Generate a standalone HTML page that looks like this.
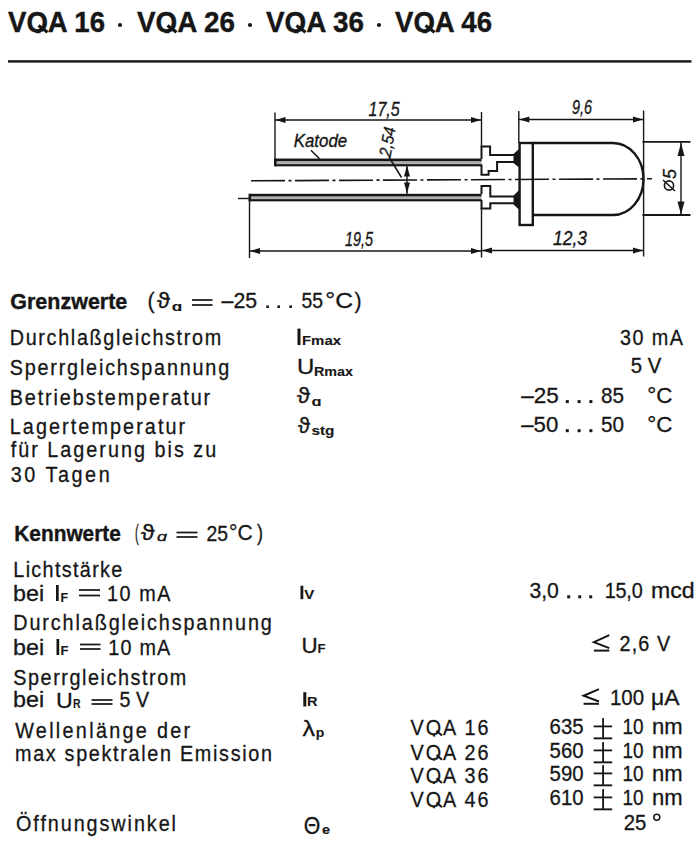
<!DOCTYPE html>
<html><head><meta charset="utf-8">
<style>
html,body{margin:0;padding:0;background:#fff;overflow:hidden;}
svg{display:block;}
text{fill:#161616;stroke:#161616;font-family:"Liberation Sans",sans-serif;}
</style></head><body>
<svg width="700" height="842" viewBox="0 0 700 842">
<defs><clipPath id="cq" clipPathUnits="userSpaceOnUse"><rect x="-100" y="-60" width="1400" height="61.2"/></clipPath></defs>
<rect x="0" y="0" width="700" height="842" fill="#fff"/>
<g transform="translate(8.00,32) scale(1.0,1)"><text x="0" y="0" font-size="29.5" font-weight="bold" font-style="normal" font-family="Liberation Sans" stroke-width="0.4" textLength="97.00" lengthAdjust="spacingAndGlyphs" clip-path="url(#cq)">VQA 16</text></g>
<g transform="translate(137.00,32) scale(1.0,1)"><text x="0" y="0" font-size="29.5" font-weight="bold" font-style="normal" font-family="Liberation Sans" stroke-width="0.4" textLength="98.00" lengthAdjust="spacingAndGlyphs" clip-path="url(#cq)">VQA 26</text></g>
<g transform="translate(266.00,32) scale(1.0,1)"><text x="0" y="0" font-size="29.5" font-weight="bold" font-style="normal" font-family="Liberation Sans" stroke-width="0.4" textLength="98.00" lengthAdjust="spacingAndGlyphs" clip-path="url(#cq)">VQA 36</text></g>
<g transform="translate(395.00,32) scale(1.0,1)"><text x="0" y="0" font-size="29.5" font-weight="bold" font-style="normal" font-family="Liberation Sans" stroke-width="0.4" textLength="97.00" lengthAdjust="spacingAndGlyphs" clip-path="url(#cq)">VQA 46</text></g>
<g transform="translate(10.30,309) scale(1.0,1)"><text x="0" y="0" font-size="21.8" font-weight="bold" font-style="normal" font-family="Liberation Sans" stroke-width="0.4" textLength="117.00" lengthAdjust="spacingAndGlyphs">Grenzwerte</text></g>
<g transform="translate(147.60,308) scale(1.0,1)"><text x="0" y="0" font-size="22" font-weight="normal" font-style="normal" font-family="Liberation Sans" stroke-width="0.3" textLength="7.06" lengthAdjust="spacingAndGlyphs">(</text></g>
<g transform="translate(157.10,308) scale(1.0,1)"><text x="0" y="0" font-size="22" font-weight="normal" font-style="normal" font-family="Liberation Sans" stroke-width="0.3" textLength="13.03" lengthAdjust="spacingAndGlyphs">ϑ</text></g>
<g transform="translate(171.70,311) scale(1.0,1)"><text x="0" y="0" font-size="13" font-weight="bold" font-style="normal" font-family="Liberation Sans" stroke-width="0.1" textLength="10.54" lengthAdjust="spacingAndGlyphs">ɑ</text></g>
<g transform="translate(221.60,308) scale(1.0,1)"><text x="0" y="0" font-size="22" font-weight="normal" font-style="normal" font-family="Liberation Sans" stroke-width="0.3" textLength="35.52" lengthAdjust="spacingAndGlyphs">–25</text></g>
<g transform="translate(301.40,308) scale(1.0,1)"><text x="0" y="0" font-size="22" font-weight="normal" font-style="normal" font-family="Liberation Sans" stroke-width="0.3" textLength="21.52" lengthAdjust="spacingAndGlyphs">55</text></g>
<g transform="translate(325.30,308) scale(1.0,1)"><text x="0" y="0" font-size="22" font-weight="normal" font-style="normal" font-family="Liberation Sans" stroke-width="0.3" textLength="27.64" lengthAdjust="spacingAndGlyphs">°C</text></g>
<g transform="translate(354.60,308) scale(1.0,1)"><text x="0" y="0" font-size="22" font-weight="normal" font-style="normal" font-family="Liberation Sans" stroke-width="0.3" textLength="7.06" lengthAdjust="spacingAndGlyphs">)</text></g>
<g transform="translate(9.70,345.2) scale(0.9,1)"><text x="0" y="0" font-size="22" font-weight="normal" font-style="normal" font-family="Liberation Sans" stroke-width="0.3" textLength="235.00" lengthAdjust="spacing">Durchlaßgleichstrom</text></g>
<g transform="translate(9.70,374.5) scale(0.9,1)"><text x="0" y="0" font-size="22" font-weight="normal" font-style="normal" font-family="Liberation Sans" stroke-width="0.3" textLength="243.89" lengthAdjust="spacing">Sperrgleichspannung</text></g>
<g transform="translate(9.70,404.5) scale(0.9,1)"><text x="0" y="0" font-size="22" font-weight="normal" font-style="normal" font-family="Liberation Sans" stroke-width="0.3" textLength="222.78" lengthAdjust="spacing">Betriebstemperatur</text></g>
<g transform="translate(9.70,434.4) scale(0.9,1)"><text x="0" y="0" font-size="22" font-weight="normal" font-style="normal" font-family="Liberation Sans" stroke-width="0.3" textLength="195.00" lengthAdjust="spacing">Lagertemperatur</text></g>
<g transform="translate(10.70,456.9) scale(0.9,1)"><text x="0" y="0" font-size="22" font-weight="normal" font-style="normal" font-family="Liberation Sans" stroke-width="0.3" textLength="228.33" lengthAdjust="spacing">für Lagerung bis zu</text></g>
<g transform="translate(10.70,481.5) scale(0.9,1)"><text x="0" y="0" font-size="22" font-weight="normal" font-style="normal" font-family="Liberation Sans" stroke-width="0.3" textLength="110.00" lengthAdjust="spacing">30 Tagen</text></g>
<g transform="translate(302.00,345.3) scale(1.0,1)"><text x="0" y="0" font-size="12.4" font-weight="bold" font-style="normal" font-family="Liberation Sans" stroke-width="0.1" textLength="39.00" lengthAdjust="spacingAndGlyphs">Fmax</text></g>
<g transform="translate(297.00,374) scale(1.0,1)"><text x="0" y="0" font-size="22" font-weight="normal" font-style="normal" font-family="Liberation Sans" stroke-width="0.3" textLength="17.31" lengthAdjust="spacingAndGlyphs">U</text></g>
<g transform="translate(314.00,375.6) scale(1.0,1)"><text x="0" y="0" font-size="12.4" font-weight="bold" font-style="normal" font-family="Liberation Sans" stroke-width="0.1" textLength="39.00" lengthAdjust="spacingAndGlyphs">Rmax</text></g>
<g transform="translate(297.00,403.4) scale(1.0,1)"><text x="0" y="0" font-size="22" font-weight="normal" font-style="normal" font-family="Liberation Sans" stroke-width="0.3" textLength="13.03" lengthAdjust="spacingAndGlyphs">ϑ</text></g>
<g transform="translate(311.40,405.6) scale(1.0,1)"><text x="0" y="0" font-size="12.4" font-weight="bold" font-style="normal" font-family="Liberation Sans" stroke-width="0.1" textLength="10.07" lengthAdjust="spacingAndGlyphs">ɑ</text></g>
<g transform="translate(298.00,433.4) scale(1.0,1)"><text x="0" y="0" font-size="22" font-weight="normal" font-style="normal" font-family="Liberation Sans" stroke-width="0.3" textLength="12.03" lengthAdjust="spacingAndGlyphs">ϑ</text></g>
<g transform="translate(311.40,435) scale(1.0,1)"><text x="0" y="0" font-size="12.4" font-weight="bold" font-style="normal" font-family="Liberation Sans" stroke-width="0.1" textLength="23.03" lengthAdjust="spacingAndGlyphs">stg</text></g>
<g transform="translate(620.00,344.5) scale(0.9,1)"><text x="0" y="0" font-size="22" font-weight="normal" font-style="normal" font-family="Liberation Sans" stroke-width="0.3" textLength="70.00" lengthAdjust="spacing">30 mA</text></g>
<g transform="translate(630.70,373) scale(1.0,1)"><text x="0" y="0" font-size="22" font-weight="normal" font-style="normal" font-family="Liberation Sans" stroke-width="0.3" textLength="30.51" lengthAdjust="spacingAndGlyphs">5 V</text></g>
<g transform="translate(521.20,403.1) scale(1.0,1)"><text x="0" y="0" font-size="22" font-weight="normal" font-style="normal" font-family="Liberation Sans" stroke-width="0.3" textLength="37.53" lengthAdjust="spacingAndGlyphs">–25</text></g>
<g transform="translate(601.00,403.1) scale(1.0,1)"><text x="0" y="0" font-size="22" font-weight="normal" font-style="normal" font-family="Liberation Sans" stroke-width="0.3" textLength="23.02" lengthAdjust="spacingAndGlyphs">85</text></g>
<g transform="translate(647.20,403.1) scale(1.0,1)"><text x="0" y="0" font-size="22" font-weight="normal" font-style="normal" font-family="Liberation Sans" stroke-width="0.3" textLength="25.12" lengthAdjust="spacingAndGlyphs">°C</text></g>
<g transform="translate(521.20,432.2) scale(1.0,1)"><text x="0" y="0" font-size="22" font-weight="normal" font-style="normal" font-family="Liberation Sans" stroke-width="0.3" textLength="37.04" lengthAdjust="spacingAndGlyphs">–50</text></g>
<g transform="translate(601.00,432.2) scale(1.0,1)"><text x="0" y="0" font-size="22" font-weight="normal" font-style="normal" font-family="Liberation Sans" stroke-width="0.3" textLength="23.02" lengthAdjust="spacingAndGlyphs">50</text></g>
<g transform="translate(647.20,432.2) scale(1.0,1)"><text x="0" y="0" font-size="22" font-weight="normal" font-style="normal" font-family="Liberation Sans" stroke-width="0.3" textLength="25.12" lengthAdjust="spacingAndGlyphs">°C</text></g>
<g transform="translate(14.30,541) scale(1.0,1)"><text x="0" y="0" font-size="21.8" font-weight="bold" font-style="normal" font-family="Liberation Sans" stroke-width="0.4" textLength="106.50" lengthAdjust="spacingAndGlyphs">Kennwerte</text></g>
<g transform="translate(135.00,540.3) scale(1.0,1)"><text x="0" y="0" font-size="22" font-weight="normal" font-style="normal" font-family="Liberation Sans" stroke-width="0.3" textLength="3.69" lengthAdjust="spacingAndGlyphs">(</text></g>
<g transform="translate(141.00,540.3) scale(1.0,1)"><text x="0" y="0" font-size="22" font-weight="normal" font-style="normal" font-family="Liberation Sans" stroke-width="0.3" textLength="13.57" lengthAdjust="spacingAndGlyphs">ϑ</text></g>
<g transform="translate(157.00,541) scale(1.0,1)"><text x="0" y="0" font-size="13" font-weight="normal" font-style="italic" font-family="Liberation Sans" stroke-width="0.35" textLength="10.00" lengthAdjust="spacingAndGlyphs">ɑ</text></g>
<g transform="translate(206.50,541.3) scale(1.0,1)"><text x="0" y="0" font-size="22" font-weight="normal" font-style="normal" font-family="Liberation Sans" stroke-width="0.3" textLength="21.52" lengthAdjust="spacingAndGlyphs">25</text></g>
<g transform="translate(229.00,540.3) scale(1.0,1)"><text x="0" y="0" font-size="22" font-weight="normal" font-style="normal" font-family="Liberation Sans" stroke-width="0.3" textLength="23.59" lengthAdjust="spacingAndGlyphs">°C</text></g>
<g transform="translate(257.00,540.3) scale(1.0,1)"><text x="0" y="0" font-size="22" font-weight="normal" font-style="normal" font-family="Liberation Sans" stroke-width="0.3" textLength="6.00" lengthAdjust="spacingAndGlyphs">)</text></g>
<g transform="translate(13.30,577.3) scale(0.9,1)"><text x="0" y="0" font-size="22" font-weight="normal" font-style="normal" font-family="Liberation Sans" stroke-width="0.3" textLength="121.11" lengthAdjust="spacing">Lichtstärke</text></g>
<g transform="translate(13.10,601) scale(1.0,1)"><text x="0" y="0" font-size="22" font-weight="normal" font-style="normal" font-family="Liberation Sans" stroke-width="0.3" textLength="31.09" lengthAdjust="spacingAndGlyphs">bei</text></g>
<g transform="translate(60.50,601.5) scale(1.0,1)"><text x="0" y="0" font-size="12.4" font-weight="bold" font-style="normal" font-family="Liberation Sans" stroke-width="0.1" textLength="7.57" lengthAdjust="spacingAndGlyphs">F</text></g>
<g transform="translate(107.00,601) scale(0.9,1)"><text x="0" y="0" font-size="22" font-weight="normal" font-style="normal" font-family="Liberation Sans" stroke-width="0.3" textLength="70.56" lengthAdjust="spacing">10 mA</text></g>
<g transform="translate(13.30,630.3) scale(0.9,1)"><text x="0" y="0" font-size="22" font-weight="normal" font-style="normal" font-family="Liberation Sans" stroke-width="0.3" textLength="287.22" lengthAdjust="spacing">Durchlaßgleichspannung</text></g>
<g transform="translate(13.10,654.6) scale(1.0,1)"><text x="0" y="0" font-size="22" font-weight="normal" font-style="normal" font-family="Liberation Sans" stroke-width="0.3" textLength="31.09" lengthAdjust="spacingAndGlyphs">bei</text></g>
<g transform="translate(60.50,655) scale(1.0,1)"><text x="0" y="0" font-size="12.4" font-weight="bold" font-style="normal" font-family="Liberation Sans" stroke-width="0.1" textLength="8.00" lengthAdjust="spacingAndGlyphs">F</text></g>
<g transform="translate(108.30,654.6) scale(0.9,1)"><text x="0" y="0" font-size="22" font-weight="normal" font-style="normal" font-family="Liberation Sans" stroke-width="0.3" textLength="68.89" lengthAdjust="spacing">10 mA</text></g>
<g transform="translate(13.30,685) scale(0.9,1)"><text x="0" y="0" font-size="22" font-weight="normal" font-style="normal" font-family="Liberation Sans" stroke-width="0.3" textLength="192.22" lengthAdjust="spacing">Sperrgleichstrom</text></g>
<g transform="translate(13.10,707.3) scale(1.0,1)"><text x="0" y="0" font-size="22" font-weight="normal" font-style="normal" font-family="Liberation Sans" stroke-width="0.3" textLength="31.09" lengthAdjust="spacingAndGlyphs">bei</text></g>
<g transform="translate(56.00,707.5) scale(1.0,1)"><text x="0" y="0" font-size="22" font-weight="normal" font-style="normal" font-family="Liberation Sans" stroke-width="0.3" textLength="16.77" lengthAdjust="spacingAndGlyphs">U</text></g>
<g transform="translate(73.00,707.5) scale(1.0,1)"><text x="0" y="0" font-size="12.4" font-weight="bold" font-style="normal" font-family="Liberation Sans" stroke-width="0.1" textLength="7.57" lengthAdjust="spacingAndGlyphs">R</text></g>
<g transform="translate(119.60,707.3) scale(1.0,1)"><text x="0" y="0" font-size="22" font-weight="normal" font-style="normal" font-family="Liberation Sans" stroke-width="0.3" textLength="29.52" lengthAdjust="spacingAndGlyphs">5 V</text></g>
<g transform="translate(15.20,738) scale(0.9,1)"><text x="0" y="0" font-size="22" font-weight="normal" font-style="normal" font-family="Liberation Sans" stroke-width="0.3" textLength="194.44" lengthAdjust="spacing">Wellenlänge der</text></g>
<g transform="translate(15.00,761.2) scale(0.9,1)"><text x="0" y="0" font-size="22" font-weight="normal" font-style="normal" font-family="Liberation Sans" stroke-width="0.3" textLength="285.56" lengthAdjust="spacing">max spektralen Emission</text></g>
<g transform="translate(16.00,831.2) scale(0.9,1)"><text x="0" y="0" font-size="22" font-weight="normal" font-style="normal" font-family="Liberation Sans" stroke-width="0.3" textLength="177.78" lengthAdjust="spacing">Öffnungswinkel</text></g>
<g transform="translate(304.30,599) scale(1.0,1)"><text x="0" y="0" font-size="12.4" font-weight="bold" font-style="normal" font-family="Liberation Sans" stroke-width="0.1" textLength="10.05" lengthAdjust="spacingAndGlyphs">V</text></g>
<g transform="translate(301.40,653.2) scale(1.0,1)"><text x="0" y="0" font-size="22" font-weight="normal" font-style="normal" font-family="Liberation Sans" stroke-width="0.3" textLength="16.19" lengthAdjust="spacingAndGlyphs">U</text></g>
<g transform="translate(317.60,653.2) scale(1.0,1)"><text x="0" y="0" font-size="12.4" font-weight="bold" font-style="normal" font-family="Liberation Sans" stroke-width="0.1" textLength="8.07" lengthAdjust="spacingAndGlyphs">F</text></g>
<g transform="translate(307.10,706.4) scale(1.0,1)"><text x="0" y="0" font-size="12.4" font-weight="bold" font-style="normal" font-family="Liberation Sans" stroke-width="0.1" textLength="10.55" lengthAdjust="spacingAndGlyphs">R</text></g>
<g transform="translate(302.40,735.9) scale(1.0,1)"><text x="0" y="0" font-size="22" font-weight="normal" font-style="normal" font-family="Liberation Sans" stroke-width="0.3" textLength="12.53" lengthAdjust="spacingAndGlyphs">λ</text></g>
<g transform="translate(315.70,737) scale(1.0,1)"><text x="0" y="0" font-size="12.4" font-weight="bold" font-style="normal" font-family="Liberation Sans" stroke-width="0.1" textLength="8.56" lengthAdjust="spacingAndGlyphs">p</text></g>
<g transform="translate(303.70,834.3) scale(1.0,1)"><text x="0" y="0" font-size="23" font-weight="normal" font-style="normal" font-family="Liberation Serif" stroke-width="0.3" textLength="16.52" lengthAdjust="spacingAndGlyphs">Θ</text></g>
<g transform="translate(322.10,833.7) scale(1.0,1)"><text x="0" y="0" font-size="13" font-weight="bold" font-style="normal" font-family="Liberation Serif" stroke-width="0.1" textLength="8.06" lengthAdjust="spacingAndGlyphs">e</text></g>
<g transform="translate(619.60,651.4) scale(0.9,1)"><text x="0" y="0" font-size="22" font-weight="normal" font-style="normal" font-family="Liberation Sans" stroke-width="0.3" textLength="56.11" lengthAdjust="spacing">2,6 V</text></g>
<g transform="translate(610.00,704.6) scale(1.0,1)"><text x="0" y="0" font-size="22" font-weight="normal" font-style="normal" font-family="Liberation Sans" stroke-width="0.3" textLength="34.05" lengthAdjust="spacingAndGlyphs">100</text></g>
<g transform="translate(651.10,704.6) scale(1.0,1)"><text x="0" y="0" font-size="22" font-weight="normal" font-style="normal" font-family="Liberation Sans" stroke-width="0.3" textLength="28.54" lengthAdjust="spacingAndGlyphs">μA</text></g>
<g transform="translate(529.40,598.3) scale(1.0,1)"><text x="0" y="0" font-size="22" font-weight="normal" font-style="normal" font-family="Liberation Sans" stroke-width="0.3" textLength="29.50" lengthAdjust="spacingAndGlyphs">3,0</text></g>
<g transform="translate(604.70,598.3) scale(0.9,1)"><text x="0" y="0" font-size="22" font-weight="normal" font-style="normal" font-family="Liberation Sans" stroke-width="0.3" textLength="42.22" lengthAdjust="spacing">15,0</text></g>
<g transform="translate(651.10,598.3) scale(1.0,1)"><text x="0" y="0" font-size="22" font-weight="normal" font-style="normal" font-family="Liberation Sans" stroke-width="0.3" textLength="43.59" lengthAdjust="spacingAndGlyphs">mcd</text></g>
<g transform="translate(410.60,735.4) scale(0.9,1)"><text x="0" y="0" font-size="22" font-weight="normal" font-style="normal" font-family="Liberation Sans" stroke-width="0.3" textLength="86.67" lengthAdjust="spacing" clip-path="url(#cq)">VQA 16</text></g>
<g transform="translate(410.60,759.5) scale(0.9,1)"><text x="0" y="0" font-size="22" font-weight="normal" font-style="normal" font-family="Liberation Sans" stroke-width="0.3" textLength="86.67" lengthAdjust="spacing" clip-path="url(#cq)">VQA 26</text></g>
<g transform="translate(410.60,782.9) scale(0.9,1)"><text x="0" y="0" font-size="22" font-weight="normal" font-style="normal" font-family="Liberation Sans" stroke-width="0.3" textLength="86.67" lengthAdjust="spacing" clip-path="url(#cq)">VQA 36</text></g>
<g transform="translate(410.60,807) scale(0.9,1)"><text x="0" y="0" font-size="22" font-weight="normal" font-style="normal" font-family="Liberation Sans" stroke-width="0.3" textLength="86.67" lengthAdjust="spacing" clip-path="url(#cq)">VQA 46</text></g>
<g transform="translate(549.60,734.4) scale(1.0,1)"><text x="0" y="0" font-size="22" font-weight="normal" font-style="normal" font-family="Liberation Sans" stroke-width="0.3" textLength="34.01" lengthAdjust="spacingAndGlyphs">635</text></g>
<g transform="translate(622.40,734.4) scale(1.0,1)"><text x="0" y="0" font-size="22" font-weight="normal" font-style="normal" font-family="Liberation Sans" stroke-width="0.3" textLength="21.03" lengthAdjust="spacingAndGlyphs">10</text></g>
<g transform="translate(652.00,734.4) scale(1.0,1)"><text x="0" y="0" font-size="22" font-weight="normal" font-style="normal" font-family="Liberation Sans" stroke-width="0.3" textLength="30.63" lengthAdjust="spacingAndGlyphs">nm</text></g>
<g transform="translate(549.60,758.4) scale(1.0,1)"><text x="0" y="0" font-size="22" font-weight="normal" font-style="normal" font-family="Liberation Sans" stroke-width="0.3" textLength="34.01" lengthAdjust="spacingAndGlyphs">560</text></g>
<g transform="translate(622.40,758.4) scale(1.0,1)"><text x="0" y="0" font-size="22" font-weight="normal" font-style="normal" font-family="Liberation Sans" stroke-width="0.3" textLength="21.03" lengthAdjust="spacingAndGlyphs">10</text></g>
<g transform="translate(652.00,758.4) scale(1.0,1)"><text x="0" y="0" font-size="22" font-weight="normal" font-style="normal" font-family="Liberation Sans" stroke-width="0.3" textLength="30.63" lengthAdjust="spacingAndGlyphs">nm</text></g>
<g transform="translate(549.60,781.4) scale(1.0,1)"><text x="0" y="0" font-size="22" font-weight="normal" font-style="normal" font-family="Liberation Sans" stroke-width="0.3" textLength="34.01" lengthAdjust="spacingAndGlyphs">590</text></g>
<g transform="translate(622.40,781.4) scale(1.0,1)"><text x="0" y="0" font-size="22" font-weight="normal" font-style="normal" font-family="Liberation Sans" stroke-width="0.3" textLength="21.03" lengthAdjust="spacingAndGlyphs">10</text></g>
<g transform="translate(652.00,781.4) scale(1.0,1)"><text x="0" y="0" font-size="22" font-weight="normal" font-style="normal" font-family="Liberation Sans" stroke-width="0.3" textLength="30.63" lengthAdjust="spacingAndGlyphs">nm</text></g>
<g transform="translate(549.60,805.4) scale(1.0,1)"><text x="0" y="0" font-size="22" font-weight="normal" font-style="normal" font-family="Liberation Sans" stroke-width="0.3" textLength="34.01" lengthAdjust="spacingAndGlyphs">610</text></g>
<g transform="translate(622.40,805.4) scale(1.0,1)"><text x="0" y="0" font-size="22" font-weight="normal" font-style="normal" font-family="Liberation Sans" stroke-width="0.3" textLength="21.03" lengthAdjust="spacingAndGlyphs">10</text></g>
<g transform="translate(652.00,805.4) scale(1.0,1)"><text x="0" y="0" font-size="22" font-weight="normal" font-style="normal" font-family="Liberation Sans" stroke-width="0.3" textLength="30.63" lengthAdjust="spacingAndGlyphs">nm</text></g>
<g transform="translate(623.70,830) scale(1.0,1)"><text x="0" y="0" font-size="22" font-weight="normal" font-style="normal" font-family="Liberation Sans" stroke-width="0.3" textLength="22.52" lengthAdjust="spacingAndGlyphs">25</text></g>
<g transform="translate(368.60,115.7) scale(1.0,1)"><text x="0" y="0" font-size="20.5" font-weight="normal" font-style="italic" font-family="Liberation Sans" stroke-width="0.35" textLength="31.02" lengthAdjust="spacingAndGlyphs">17,5</text></g>
<g transform="translate(572.00,114) scale(1.0,1)"><text x="0" y="0" font-size="19.5" font-weight="normal" font-style="italic" font-family="Liberation Sans" stroke-width="0.35" textLength="20.00" lengthAdjust="spacingAndGlyphs">9,6</text></g>
<g transform="translate(345.00,246) scale(1.0,1)"><text x="0" y="0" font-size="20" font-weight="normal" font-style="italic" font-family="Liberation Sans" stroke-width="0.35" textLength="28.03" lengthAdjust="spacingAndGlyphs">19,5</text></g>
<g transform="translate(553.00,245) scale(1.0,1)"><text x="0" y="0" font-size="20" font-weight="normal" font-style="italic" font-family="Liberation Sans" stroke-width="0.35" textLength="34.00" lengthAdjust="spacingAndGlyphs">12,3</text></g>
<g transform="translate(293.70,146.8) scale(1.0,1)"><text x="0" y="0" font-size="19" font-weight="normal" font-style="italic" font-family="Liberation Sans" stroke-width="0.35" textLength="53.50" lengthAdjust="spacingAndGlyphs">Katode</text></g>
<rect x="8" y="60.2" width="683.5" height="2.4" fill="#161616"/>
<circle cx="120" cy="25" r="2.1" fill="#161616"/>
<circle cx="250" cy="25" r="2.1" fill="#161616"/>
<circle cx="379" cy="25" r="2.1" fill="#161616"/>
<line x1="38.5" y1="25.5" x2="47.5" y2="32.3" stroke="#161616" stroke-width="3.2"/>
<line x1="167.5" y1="25.5" x2="176.5" y2="32.3" stroke="#161616" stroke-width="3.2"/>
<line x1="296.5" y1="25.5" x2="305.5" y2="32.3" stroke="#161616" stroke-width="3.2"/>
<line x1="425.5" y1="25.5" x2="434.5" y2="32.3" stroke="#161616" stroke-width="3.2"/>
<line x1="436.5" y1="730.8" x2="442" y2="735.6" stroke="#161616" stroke-width="2.0"/>
<line x1="436.5" y1="754.9" x2="442" y2="759.7" stroke="#161616" stroke-width="2.0"/>
<line x1="436.5" y1="778.3" x2="442" y2="783.1" stroke="#161616" stroke-width="2.0"/>
<line x1="436.5" y1="802.4" x2="442" y2="807.2" stroke="#161616" stroke-width="2.0"/>
<rect x="192" y="299.15" width="20.5" height="1.7" fill="#161616"/>
<rect x="192" y="304.15" width="20.5" height="1.7" fill="#161616"/>
<rect x="176.5" y="531.65" width="21.0" height="1.7" fill="#161616"/>
<rect x="176.5" y="536.15" width="21.0" height="1.7" fill="#161616"/>
<rect x="79" y="589.15" width="21" height="1.7" fill="#161616"/>
<rect x="79" y="594.65" width="21" height="1.7" fill="#161616"/>
<rect x="80" y="643.65" width="20.5" height="1.7" fill="#161616"/>
<rect x="80" y="648.15" width="20.5" height="1.7" fill="#161616"/>
<rect x="91.5" y="699.15" width="21.0" height="1.7" fill="#161616"/>
<rect x="91.5" y="703.15" width="21.0" height="1.7" fill="#161616"/>
<rect x="56" y="585" width="2.700000000000003" height="16" fill="#161616"/>
<rect x="56.5" y="639" width="2.700000000000003" height="16" fill="#161616"/>
<rect x="297.5" y="328.6" width="3.0" height="16.399999999999977" fill="#161616"/>
<rect x="300.5" y="585.7" width="2.8000000000000114" height="13.5" fill="#161616"/>
<rect x="303.3" y="692.2" width="3.0" height="14.299999999999955" fill="#161616"/>
<rect x="266.3" y="305.4" width="2.6" height="2.6" fill="#161616"/>
<rect x="277.4" y="305.4" width="2.6" height="2.6" fill="#161616"/>
<rect x="289.4" y="305.4" width="2.6" height="2.6" fill="#161616"/>
<rect x="567.2" y="595.3" width="3" height="3" fill="#161616"/>
<rect x="578.2" y="595.3" width="3" height="3" fill="#161616"/>
<rect x="589.2" y="595.3" width="3" height="3" fill="#161616"/>
<rect x="565.8" y="400.1" width="3" height="3" fill="#161616"/>
<rect x="577.6" y="400.1" width="3" height="3" fill="#161616"/>
<rect x="589.4" y="400.1" width="3" height="3" fill="#161616"/>
<rect x="565.8" y="429.2" width="3" height="3" fill="#161616"/>
<rect x="577.6" y="429.2" width="3" height="3" fill="#161616"/>
<rect x="589.4" y="429.2" width="3" height="3" fill="#161616"/>
<circle cx="656.8" cy="817.2" r="3" fill="none" stroke="#161616" stroke-width="1.5"/>
<polyline points="609.3,635.1 593.9,642.109 609.3,648.14" fill="none" stroke="#161616" stroke-width="2"/>
<rect x="593.9" y="649.6" width="15.399999999999977" height="2" fill="#161616"/>
<polyline points="599,689.1 583.6,695.765 599,701.5" fill="none" stroke="#161616" stroke-width="2"/>
<rect x="583.6" y="702.8000000000001" width="15.399999999999977" height="2" fill="#161616"/>
<rect x="593.7" y="725.5" width="18.5" height="1.8" fill="#161616"/>
<rect x="602.2" y="718.1" width="1.8" height="20" fill="#161616"/>
<rect x="593.7" y="737.4" width="18.5" height="1.9" fill="#161616"/>
<rect x="593.7" y="749.5" width="18.5" height="1.8" fill="#161616"/>
<rect x="602.2" y="742.1" width="1.8" height="20" fill="#161616"/>
<rect x="593.7" y="761.4" width="18.5" height="1.9" fill="#161616"/>
<rect x="593.7" y="772.5" width="18.5" height="1.8" fill="#161616"/>
<rect x="602.2" y="765.1" width="1.8" height="20" fill="#161616"/>
<rect x="593.7" y="784.4" width="18.5" height="1.9" fill="#161616"/>
<rect x="593.7" y="796.5" width="18.5" height="1.8" fill="#161616"/>
<rect x="602.2" y="789.1" width="1.8" height="20" fill="#161616"/>
<rect x="593.7" y="808.4" width="18.5" height="1.9" fill="#161616"/>
<line x1="275" y1="112.5" x2="275" y2="160" stroke="#161616" stroke-width="1.4"/>
<line x1="249.5" y1="200" x2="249.5" y2="258" stroke="#161616" stroke-width="1.4"/>
<line x1="481.5" y1="112" x2="481.5" y2="146.5" stroke="#161616" stroke-width="1.4"/>
<line x1="481.5" y1="208" x2="481.5" y2="257.5" stroke="#161616" stroke-width="1.4"/>
<line x1="518.8" y1="111" x2="518.8" y2="143" stroke="#161616" stroke-width="1.4"/>
<line x1="643.6" y1="110.5" x2="643.6" y2="256.5" stroke="#161616" stroke-width="1.4"/>
<line x1="642.5" y1="141.8" x2="690.5" y2="141.8" stroke="#161616" stroke-width="1.8"/>
<line x1="642.5" y1="215" x2="690.5" y2="215" stroke="#161616" stroke-width="1.8"/>
<line x1="275" y1="120" x2="481.5" y2="120" stroke="#161616" stroke-width="1.4"/>
<polygon points="275.5,120.0 285.5,117.0 285.5,123.0" fill="#161616"/>
<polygon points="481.0,120.0 471.0,117.0 471.0,123.0" fill="#161616"/>
<line x1="518.8" y1="119.5" x2="643.6" y2="119.5" stroke="#161616" stroke-width="1.4"/>
<polygon points="519.3,119.5 529.3,116.5 529.3,122.5" fill="#161616"/>
<polygon points="643.0,119.5 633.0,116.5 633.0,122.5" fill="#161616"/>
<line x1="249.5" y1="251" x2="481.5" y2="251" stroke="#161616" stroke-width="1.4"/>
<polygon points="250.0,251.0 260.0,248.0 260.0,254.0" fill="#161616"/>
<polygon points="481.0,251.0 471.0,248.0 471.0,254.0" fill="#161616"/>
<line x1="481.5" y1="250.5" x2="643.6" y2="250.5" stroke="#161616" stroke-width="1.4"/>
<polygon points="482.0,250.5 492.0,247.5 492.0,253.5" fill="#161616"/>
<polygon points="643.0,250.5 633.0,247.5 633.0,253.5" fill="#161616"/>
<line x1="681" y1="142" x2="681" y2="215" stroke="#161616" stroke-width="1.4"/>
<polygon points="681.0,143.0 677.5,156.0 684.5,156.0" fill="#161616"/>
<polygon points="681.0,214.5 677.5,201.5 684.5,201.5" fill="#161616"/>
<line x1="407" y1="165" x2="407" y2="194" stroke="#161616" stroke-width="1.4"/>
<polygon points="407.0,165.5 404.0,176.5 410.0,176.5" fill="#161616"/>
<polygon points="407.0,193.5 404.0,182.5 410.0,182.5" fill="#161616"/>
<line x1="311" y1="150.3" x2="323" y2="162.3" stroke="#161616" stroke-width="1.5"/>
<line x1="238" y1="198.5" x2="249.5" y2="198.5" stroke="#161616" stroke-width="1.4"/>
<line x1="251" y1="180.8" x2="652" y2="178.8" stroke="#161616" stroke-width="1.6" stroke-dasharray="34 3.5 3 3.5"/>
<rect x="275" y="158.8" width="206.5" height="7.4" fill="#b0b0b0"/>
<rect x="275" y="158.6" width="206.5" height="2.5" fill="#161616"/>
<rect x="275" y="164.2" width="206.5" height="2.1" fill="#161616"/>
<rect x="274" y="158.6" width="2.6" height="7.7" fill="#161616"/>
<rect x="249.5" y="194" width="232" height="7.2" fill="#b0b0b0"/>
<rect x="249.5" y="193.8" width="232" height="2.5" fill="#161616"/>
<rect x="249.5" y="199.2" width="232" height="2.1" fill="#161616"/>
<rect x="248.5" y="193.8" width="2.6" height="7.5" fill="#161616"/>
<line x1="389" y1="157" x2="401.5" y2="177.5" stroke="#161616" stroke-width="1.5"/>
<path d="M481.5,159 V146.5 H490.1 V155 H514 M514,161.9 H497.1 V171.1 H488.6 V174.7 H481.5 V164.5" fill="none" stroke="#161616" stroke-width="2"/>
<path d="M481.5,194 V186 H490.3 V196.5 H514 M514,203.3 H490.3 V208.4 H481.5 V200" fill="none" stroke="#161616" stroke-width="2"/>
<path d="M519.5,148.5 L513.5,154 V163 L519.5,168 Z" fill="#161616"/>
<path d="M519.5,189.8 L513.5,195.5 V204.5 L519.5,210 Z" fill="#161616"/>
<rect x="519.6" y="143" width="13.2" height="82" fill="none" stroke="#161616" stroke-width="2.4"/>
<path d="M533,143 H613 A30.5,36 0 0 1 643.5,179 A30.5,36 0 0 1 613,215 H533" fill="none" stroke="#161616" stroke-width="2.4"/>
<text x="0" y="0" font-size="17" font-style="italic" stroke-width="0.3" textLength="30" lengthAdjust="spacingAndGlyphs" transform="translate(390.5,157.5) rotate(-80)">2,54</text>
<g transform="translate(669,180) rotate(-90)"><circle cx="-5.5" cy="0" r="4.6" fill="none" stroke="#161616" stroke-width="1.6"/><line x1="-11" y1="6" x2="0" y2="-6" stroke="#161616" stroke-width="1.5"/><text x="1" y="7" font-size="19" font-style="italic" stroke-width="0.3" textLength="10" lengthAdjust="spacingAndGlyphs">5</text></g>
</svg>
</body></html>
